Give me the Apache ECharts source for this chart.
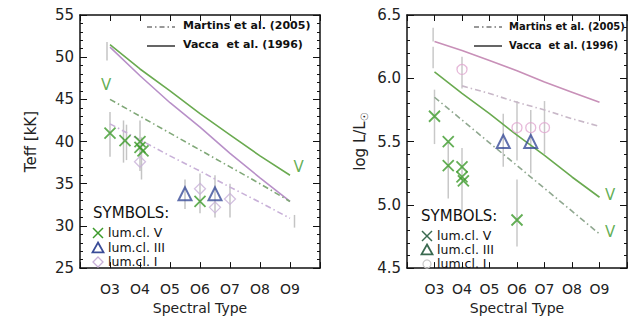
<!DOCTYPE html>
<html><head><meta charset="utf-8">
<script src="https://cdn.jsdelivr.net/npm/echarts@6/dist/echarts.min.js"></script>
<style>html,body{margin:0;padding:0;background:#fff}#c{width:630px;height:320px}</style>
</head><body><div id="c"></div>
<script>
// ---------- data ----------
var specTypes = [3, 4, 5, 6, 7, 8, 9];
var tickLabels = ['O3', 'O4', 'O5', 'O6', 'O7', 'O8', 'O9'];
// Teff panel (kK)
var vaccaV_teff   = [51.5, 48.6, 46.0, 43.3, 40.8, 38.3, 36.0];
var vaccaI_teff   = [51.2, 47.8, 44.6, 41.7, 38.6, 35.7, 32.9];
var martinsV_teff = [45.0, 43.0, 41.0, 39.0, 37.0, 35.0, 32.9];
var martinsI_teff = [42.1, 40.2, 38.3, 36.5, 34.6, 32.8, 30.9];
var teffV_x   = [3, 3.5, 4, 4, 4.1, 6];
var teffV_y   = [41.0, 40.1, 40.0, 39.3, 38.9, 32.9];
var teffIII_x = [5.5, 6.5];
var teffIII_y = [33.8, 33.8];
var teffI_x   = [4, 6, 6.5, 7];
var teffI_y   = [37.6, 34.4, 32.2, 33.2];
var teffErr_x  = [2.9, 3, 3.45, 3.55, 4, 4.05, 5.5, 6, 6.5, 7, 9.15];
var teffErr_lo = [49.6, 38.2, 37.5, 37.8, 36.5, 35.5, 32.0, 31.5, 31.0, 31.0, 29.8];
var teffErr_hi = [51.8, 43.5, 42.5, 42.0, 42.5, 40.5, 35.5, 36.2, 36.0, 35.0, 31.3];
// log L panel
var vaccaI_L   = [6.29, 6.22, 6.14, 6.06, 5.97, 5.89, 5.81];
var vaccaV_L   = [6.05, 5.88, 5.72, 5.55, 5.39, 5.22, 5.06];
var martinsV_L = [5.85, 5.67, 5.49, 5.31, 5.13, 4.95, 4.77];
var martinsI_x = [4, 5, 6, 7, 8, 9];
var martinsI_L = [5.94, 5.88, 5.81, 5.75, 5.68, 5.62];
var lumV_x   = [3, 3.5, 3.5, 4, 4, 4.05, 6];
var lumV_y   = [5.70, 5.50, 5.31, 5.30, 5.22, 5.19, 4.88];
var lumIII_x = [5.5, 6.5];
var lumIII_y = [5.50, 5.50];
var lumI_x   = [4, 6, 6.5, 7];
var lumI_y   = [6.07, 5.61, 5.61, 5.61];
var lumErr_x  = [2.95, 2.95, 3, 3.5, 4, 4, 5.5, 6, 6, 6.5, 7];
var lumErr_lo = [6.29, 6.08, 5.48, 5.05, 4.95, 5.92, 5.30, 4.67, 5.35, 5.25, 5.40];
var lumErr_hi = [6.40, 6.25, 5.91, 5.50, 5.45, 6.17, 5.72, 5.20, 5.82, 5.75, 5.82];

// ---------- helpers ----------
function zip(a, b) { return a.map(function (v, i) { return [v, b[i]]; }); }
function zip3(a, b, c) { return a.map(function (v, i) { return [v, b[i], c[i]]; }); }
function last(a) { return a[a.length - 1]; }
var FONT = 'DejaVu Sans';
var PURPLE = '#b890c8', PINK = '#c890b8', BLUE = '#3a4c98', LPURP = '#c8b0d8', VGREEN = '#3c9a2a';
var XSYM = 'path://M0 0L10 10M10 0L0 10';

function errSeries(xi, yi, data, color) {
  return {
    type: 'custom', xAxisIndex: xi, yAxisIndex: yi, data: data, z: 2,
    encode: { x: 0, y: [1, 2] },
    renderItem: function (params, api) {
      var x = api.value(0), p1 = api.coord([x, api.value(1)]), p2 = api.coord([x, api.value(2)]);
      return { type: 'line', shape: { x1: p1[0], y1: p1[1], x2: p2[0], y2: p2[1] },
               style: { stroke: color, lineWidth: 1.5 } };
    }
  };
}
function lineSeries(xi, yi, xs, ys, color, dashed) {
  return {
    type: 'line', xAxisIndex: xi, yAxisIndex: yi, data: zip(xs, ys), symbol: 'none', z: 3,
    lineStyle: { color: color, width: 1.6, type: dashed ? [6, 3, 1.5, 3] : 'solid' }
  };
}
function vMark(xi, yi, pt, pos, off) {
  return {
    type: 'scatter', xAxisIndex: xi, yAxisIndex: yi, data: [pt], symbol: 'circle', symbolSize: 1, z: 5,
    itemStyle: { color: 'rgba(0,0,0,0)' }, silent: true,
    label: { show: true, formatter: 'V', position: pos, offset: off, color: VGREEN,
             fontFamily: FONT, fontSize: 15 }
  };
}
function scatter(xi, yi, xs, ys, sym, size, color, bw) {
  return {
    type: 'scatter', xAxisIndex: xi, yAxisIndex: yi, data: zip(xs, ys), z: 4,
    symbol: sym, symbolSize: size,
    itemStyle: { color: 'rgba(0,0,0,0)', borderColor: color, borderWidth: bw }
  };
}
function xAxisB(gi) {
  return {
    type: 'value', gridIndex: gi, min: 2, max: 10, interval: 1, position: 'bottom',
    name: 'Spectral Type', nameLocation: 'middle', nameGap: 28,
    nameTextStyle: { fontFamily: FONT, fontSize: 14, color: '#222' },
    axisLine: { lineStyle: { color: '#111', width: 1.5 } },
    axisTick: { inside: true, length: 6, lineStyle: { color: '#111' } },
    axisLabel: { margin: 14, fontFamily: FONT, fontSize: 14, color: '#222',
      formatter: function (v) { var i = specTypes.indexOf(v); return i >= 0 ? tickLabels[i] : ''; } },
    splitLine: { show: false }
  };
}
function xAxisT(gi) {
  return {
    type: 'value', gridIndex: gi, min: 2, max: 10, interval: 1, position: 'top',
    axisLine: { lineStyle: { color: '#111', width: 1.5 } },
    axisTick: { inside: true, length: 6, lineStyle: { color: '#111' } },
    axisLabel: { show: false }, splitLine: { show: false }
  };
}
function yAxis(gi, pos, min, max, iv, name, gap, lab) {
  return {
    type: 'value', gridIndex: gi, min: min, max: max, interval: iv, position: pos,
    name: name, nameLocation: 'middle', nameGap: gap, nameRotate: 90,
    nameTextStyle: { fontFamily: FONT, fontSize: 15, color: '#222',
      rich: { sub: { fontSize: 10, fontFamily: FONT, verticalAlign: 'bottom', padding: [8, 0, 0, 0] } } },
    axisLine: { lineStyle: { color: '#111', width: 1.5 } },
    axisTick: { inside: true, length: 7, lineStyle: { color: '#111' } },
    minorTick: { show: true, splitNumber: 5, length: 3, lineStyle: { color: '#111' } },
    axisLabel: { show: lab, margin: 6, fontFamily: FONT, fontSize: 15, color: '#222',
      formatter: function (v) { return iv < 1 ? v.toFixed(1) : String(v); } },
    splitLine: { show: false }
  };
}

var chart = echarts.init(document.getElementById('c'), null, { renderer: 'svg' });
var tx = function (x, y, s, size, weight) {
  return { type: 'text', left: x, top: y, z: 10,
    style: { text: s, fontFamily: FONT, fontSize: size, fontWeight: weight || 'normal', fill: '#111' } };
};
var ln = function (x1, y1, x2, y2, color, dash, w) {
  return { type: 'line', z: 10, shape: { x1: x1, y1: y1, x2: x2, y2: y2 },
    style: { stroke: color, lineWidth: w || 1.5, lineDash: dash || null } };
};
var xg = function (cx, cy, r, color) {
  return { type: 'group', z: 10, children: [
    ln(cx - r, cy - r, cx + r, cy + r, color, null, 1.5), ln(cx + r, cy - r, cx - r, cy + r, color, null, 1.5)] };
};
var tri = function (cx, cy, r, color) {
  return { type: 'polygon', z: 10, shape: { points: [[cx, cy - r], [cx + r, cy + r * 0.8], [cx - r, cy + r * 0.8]] },
    style: { fill: 'none', stroke: color, lineWidth: 1.8 } };
};
var dia = function (cx, cy, r, color) {
  return { type: 'polygon', z: 10, shape: { points: [[cx, cy - r], [cx + r, cy], [cx, cy + r], [cx - r, cy]] },
    style: { fill: 'none', stroke: color, lineWidth: 1.3 } };
};
var circ = function (cx, cy, r, color) {
  return { type: 'circle', z: 10, shape: { cx: cx, cy: cy, r: r }, style: { fill: 'none', stroke: color, lineWidth: 1.3 } };
};

chart.setOption({
  animation: false,
  grid: [
    { left: 80, top: 15, width: 240, height: 258 },
    { left: 407, top: 15, width: 244, height: 255 }
  ],
  xAxis: [xAxisB(0), xAxisT(0), xAxisB(1), xAxisT(1)],
  yAxis: [
    yAxis(0, 'left', 25, 55, 5, 'Teff [kK]', 42, true),
    yAxis(0, 'right', 25, 55, 5, '', 0, false),
    yAxis(1, 'left', 4.5, 6.5, 0.5, 'log L/L{sub|☉}', 38, true),
    yAxis(1, 'right', 4.5, 6.5, 0.5, '', 0, false)
  ],
  series: [
    // left panel
    lineSeries(0, 0, specTypes, vaccaV_teff, '#6aaa50', false),
    lineSeries(0, 0, specTypes, vaccaI_teff, PURPLE, false),
    lineSeries(0, 0, specTypes, martinsV_teff, '#80a878', true),
    lineSeries(0, 0, specTypes, martinsI_teff, LPURP, true),
    errSeries(0, 0, zip3(teffErr_x, teffErr_lo, teffErr_hi), '#c4c4c4'),
    scatter(0, 0, teffI_x, teffI_y, 'diamond', 11, LPURP, 1.3),
    scatter(0, 0, teffIII_x, teffIII_y, 'triangle', 13, BLUE, 2),
    scatter(0, 0, teffV_x, teffV_y, XSYM, 11, VGREEN, 1.8),
    vMark(0, 0, [specTypes[0], martinsV_teff[0]], 'top', [-4, -1]),
    vMark(0, 0, [last(specTypes), last(vaccaV_teff)], 'right', [-2, -8]),
    // right panel
    lineSeries(2, 2, specTypes, vaccaI_L, PINK, false),
    lineSeries(2, 2, specTypes, vaccaV_L, '#6aaa50', false),
    lineSeries(2, 2, specTypes, martinsV_L, '#90a890', true),
    lineSeries(2, 2, martinsI_x, martinsI_L, '#c8b8c8', true),
    errSeries(2, 2, zip3(lumErr_x, lumErr_lo, lumErr_hi), '#c8c8c8'),
    scatter(2, 2, lumI_x, lumI_y, 'circle', 10, '#e0a8d0', 1.3),
    scatter(2, 2, lumIII_x, lumIII_y, 'triangle', 13, BLUE, 2),
    scatter(2, 2, lumV_x, lumV_y, XSYM, 11, VGREEN, 1.8),
    vMark(2, 2, [last(specTypes), last(vaccaV_L)], 'right', [0, -2]),
    vMark(2, 2, [last(specTypes), last(martinsV_L)], 'right', [0, -2])
  ],
  graphic: [
    // left legend (models)
    ln(147, 27, 175, 27, '#333', [5, 3, 1.5, 3], 1.2), tx(183, 20, 'Martins et al. (2005)', 11, 'bold'),
    ln(147, 46, 175, 46, '#111', null, 1.3), tx(183, 39, 'Vacca  et al. (1996)', 11, 'bold'),
    // right legend (models)
    ln(474, 27, 502, 27, '#333', [5, 3, 1.5, 3], 1.2), tx(509, 21, 'Martins et al. (2005)', 10, 'bold'),
    ln(474, 46, 502, 46, '#111', null, 1.3), tx(509, 40, 'Vacca  et al. (1996)', 10, 'bold'),
    // left symbols legend
    tx(93, 205, 'SYMBOLS:', 15),
    xg(98, 233, 5, VGREEN), tx(108, 226, 'lum.cl. V', 12.5),
    tri(98, 248, 5.5, BLUE), tx(108, 241, 'lum.cl. III', 12.5),
    dia(98, 262, 5, LPURP), tx(108, 255, 'lum.cl. I', 12.5),
    // right symbols legend
    tx(421, 208, 'SYMBOLS:', 15),
    xg(427, 236, 5, '#3a6a50'), tx(437, 229, 'lum.cl. V', 12.5),
    tri(427, 250, 5.5, '#3a6a50'), tx(437, 243, 'lum.cl. III', 12.5),
    circ(427, 264, 4, '#cccccc'), tx(437, 257, 'lum.cl. I', 12.5)
  ]
});
</script></body></html>
